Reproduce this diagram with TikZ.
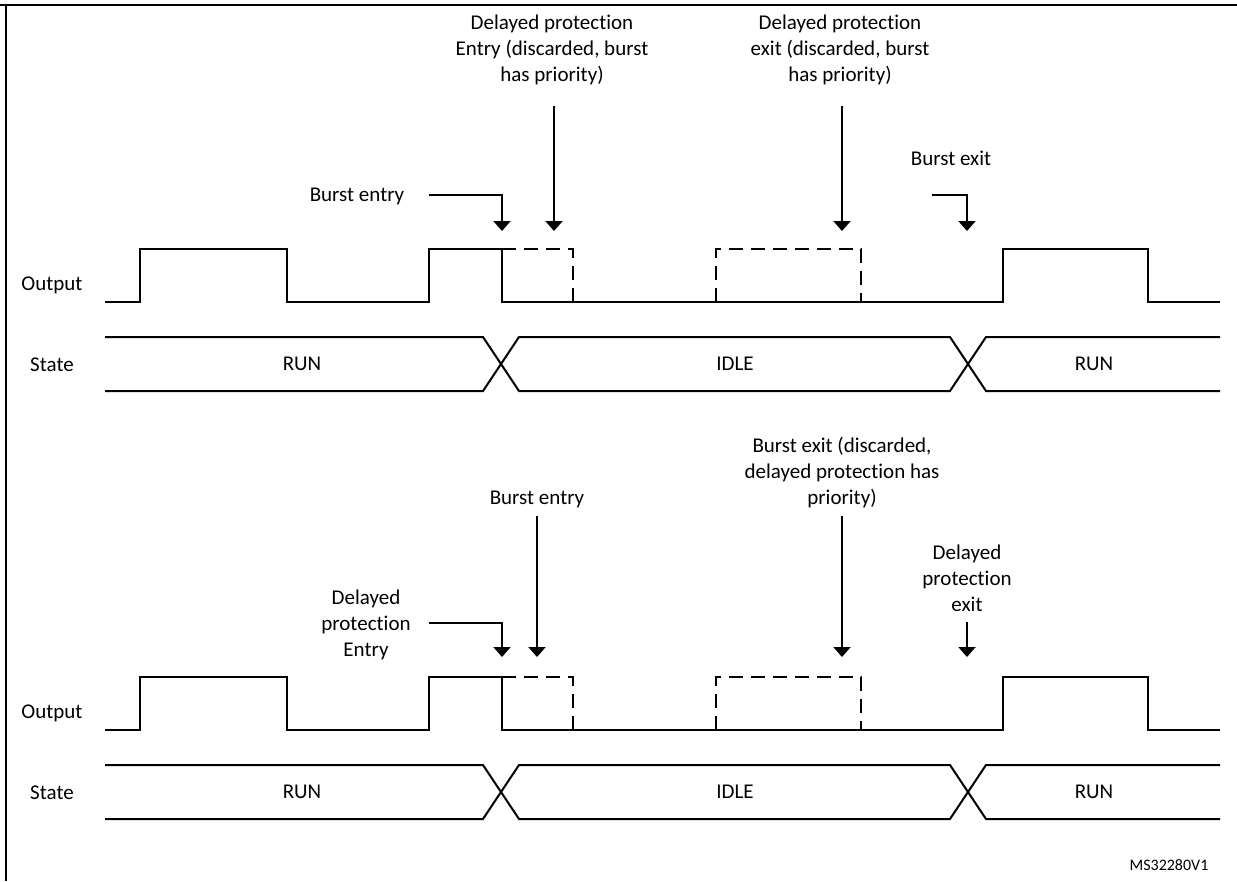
\documentclass[tikz,border=0pt]{standalone}
\usepackage{fontspec}
\setmainfont{Carlito}[Ligatures=CommonOff]
\usetikzlibrary{arrows.meta,positioning}

\begin{document}
\begin{tikzpicture}[
    x=1pt, y=-1pt,
    wave/.style={line width=2pt},
    ghost/.style={line width=2pt, dash pattern=on 14pt off 8pt},
    arr/.style={line width=2pt, -{Triangle[width=17pt,length=10pt]}},
    txt/.style={font=\fontsize{21}{26}\selectfont, align=center, inner sep=0pt},
    ]
                \useasboundingbox (0,0) rectangle (1237,881);

                % frame
                \draw[line width=2.5pt] (0,5) -- (1237,5);
                \draw[line width=2pt] (6,5) -- (6,881);

                % first case: burst has priority
                \node[txt] (out1) at (52,285) {Output};
                \node[txt] (st1) at (52,365) {State};

                \draw[wave] (105,302) -- (140,302) -- (140,249) -- (287,249) -- (287,302)
                    -- (429,302) -- (429,249) -- (502,249) -- (502,302) -- (1003,302)
                    -- (1003,249) -- (1148,249) -- (1148,302) -- (1220,302);
                \draw[ghost] (502,249) -- (573,249) -- (573,302);
                \draw[ghost] (716,302) -- (716,249) -- (861,249) -- (861,302);

                \draw[wave] (105,337) -- (483,337) -- (519,391) -- (950,391) -- (986,337) -- (1220,337);
                \draw[wave] (105,391) -- (483,391) -- (519,337) -- (950,337) -- (986,391) -- (1220,391);
                \node[txt] (run1a) at (302,364) {RUN};
                \node[txt] (idle1) at (735,364) {IDLE};
                \node[txt] (run1b) at (1094,364) {RUN};

                \node[txt] (dpe1) at (552,50) {Delayed protection\\Entry (discarded, burst\\has priority)};
                \node[txt] (dpx1) at (840,50) {Delayed protection\\exit (discarded, burst\\has priority)};
                \node[txt] (bin1) at (357,196) {Burst entry};
                \node[txt] (bex1) at (951,158) {Burst exit};

                \coordinate (bin1s) at (429,195);
                \coordinate (bin1t) at (502,231);
                \coordinate (dpe1s) at (554,106);
                \coordinate (dpe1t) at (554,231);
                \coordinate (dpx1s) at (842,106);
                \coordinate (dpx1t) at (842,231);
                \coordinate (bex1s) at (932,195);
                \coordinate (bex1t) at (967,231);

                \draw[arr] (bin1s) -| (bin1t);
                \draw[arr] (dpe1s) -- (dpe1t);
                \draw[arr] (dpx1s) -- (dpx1t);
                \draw[arr] (bex1s) -| (bex1t);

                % second case: delayed protection has priority
                \node[txt] (out2) at (52,713) {Output};
                \node[txt] (st2) at (52,793) {State};

                \draw[wave] (105,730) -- (140,730) -- (140,677) -- (287,677) -- (287,730)
                    -- (429,730) -- (429,677) -- (502,677) -- (502,730) -- (1003,730)
                    -- (1003,677) -- (1148,677) -- (1148,730) -- (1220,730);
                \draw[ghost] (502,677) -- (573,677) -- (573,730);
                \draw[ghost] (716,730) -- (716,677) -- (861,677) -- (861,730);

                \draw[wave] (105,765) -- (483,765) -- (519,819) -- (950,819) -- (986,765) -- (1220,765);
                \draw[wave] (105,819) -- (483,819) -- (519,765) -- (950,765) -- (986,819) -- (1220,819);
                \node[txt] (run2a) at (302,792) {RUN};
                \node[txt] (idle2) at (735,792) {IDLE};
                \node[txt] (run2b) at (1094,792) {RUN};

                \node[txt] (dpe2) at (366,625) {Delayed\\protection\\Entry};
                \node[txt] (bin2) at (537,499) {Burst entry};
                \node[txt] (bex2) at (842,473) {Burst exit (discarded,\\delayed protection has\\priority)};
                \node[txt] (dpx2) at (967,578) {Delayed\\protection\\exit};

                \coordinate (dpe2s) at (429,623);
                \coordinate (dpe2t) at (502,657);
                \coordinate (bin2s) at (537,516);
                \coordinate (bin2t) at (537,657);
                \coordinate (bex2s) at (842,516);
                \coordinate (bex2t) at (842,657);
                \coordinate (dpx2s) at (967,622);
                \coordinate (dpx2t) at (967,657);

                \draw[arr] (dpe2s) -| (dpe2t);
                \draw[arr] (bin2s) -- (bin2t);
                \draw[arr] (bex2s) -- (bex2t);
                \draw[arr] (dpx2s) -- (dpx2t);

                \node[txt, font=\fontsize{16}{19}\selectfont] (ref) at (1169,865) {MS32280V1};

\end{tikzpicture}
\end{document}
